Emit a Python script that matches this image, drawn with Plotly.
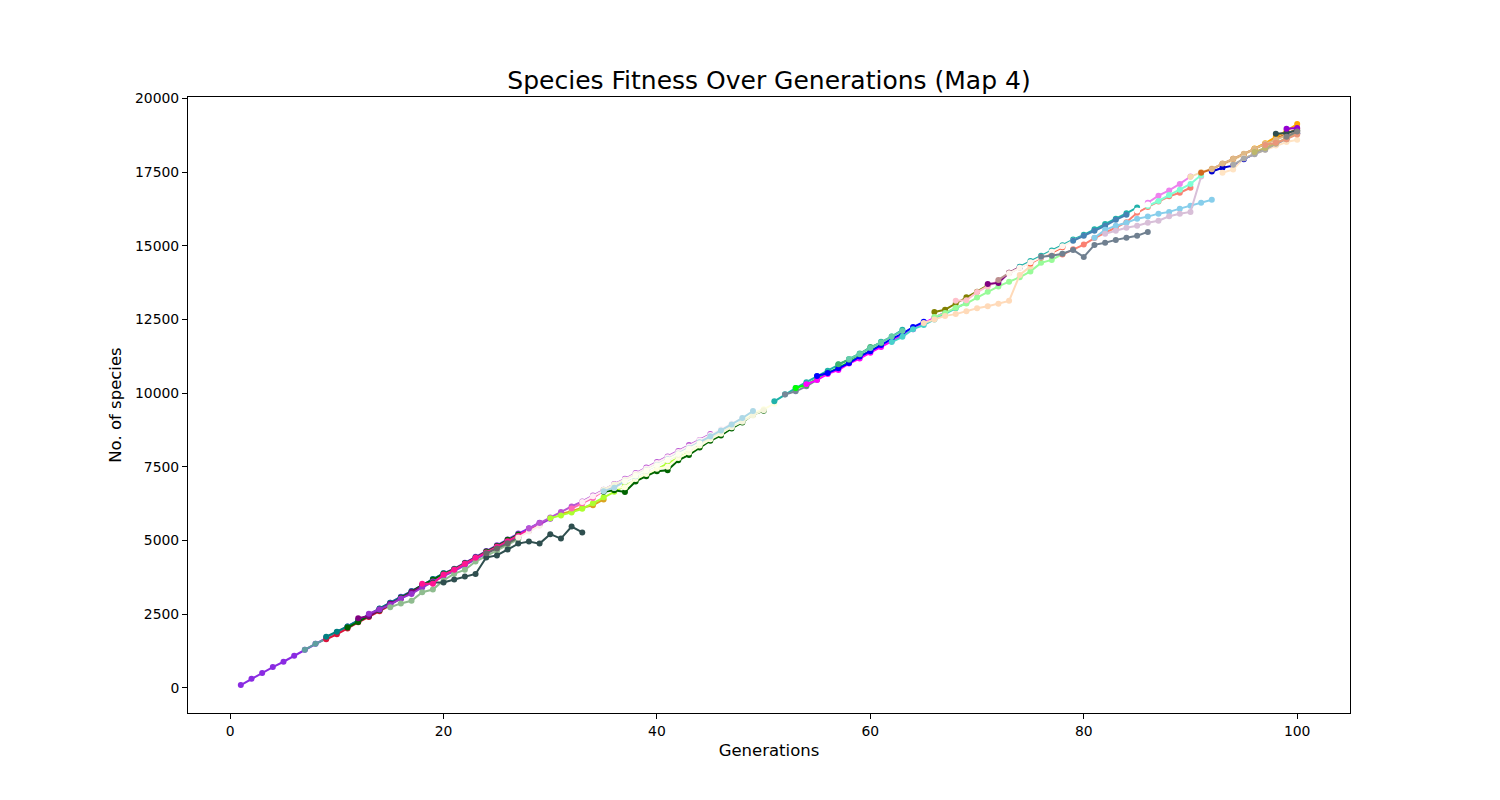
import plotly.graph_objects as go

# values, one list per species: colour, first generation, fitness per generation
species_colors = [
    "blueviolet", "cadetblue", "crimson", "teal", "darkgreen", "purple", "darkorchid",
    "darkseagreen", "darkslategray", "deeppink", "dimgray", "linen", "goldenrod", "mediumorchid",
    "greenyellow", "hotpink", "darkgreen", "lavenderblush", "lightyellow", "beige", "lightblue", "ivory",
    "lightseagreen", "lightslategray", "lime", "magenta", "blue", "mediumseagreen",
    "mediumaquamarine", "mediumturquoise", "olive", "palegreen", "peachpuff", "pink",
    "purple", "rosybrown", "tomato", "salmon", "lightseagreen", "seashell", "steelblue", "skyblue", "slategray",
    "thistle", "violet", "aquamarine", "wheat", "white", "chocolate", "mediumblue", "orange",
    "burlywood", "bisque", "darkgray", "darkkhaki", "darksalmon", "darkslategray", "darkviolet", "gray",
]

species_starts = [
    1, 7, 9, 9, 11, 12, 13,
    15, 19, 18, 24, 27, 31, 28,
    30, 32, 35, 33, 36, 35, 35, 37,
    51, 52, 53, 54, 55, 57,
    58, 62, 66, 66, 65, 68,
    71, 72, 75, 78, 74, 73, 79, 81, 76,
    82, 86, 86, 90, 85, 91, 92, 96,
    92, 93, 94, 96, 97, 98, 99, 99,
]

species_fitness = [
    [90, 300, 500, 700, 880, 1080, 1290, 1490, 1700, 1880, 2080, 2280, 2470, 2680, 2880, 3090, 3280,
     3480, 3680, 3880, 4040, 4240, 4440, 4640, 4830, 5030, 5230, 5410, 5600],
    [1290, 1490, 1660, 1870, 2070, 2260, 2450, 2650, 2850, 3050, 3230, 3470, 3660, 3880, 4020, 4210],
    [1640, 1810, 2010, 2220, 2400, 2590, 2790],
    [1730, 1900, 2080, 2280, 2470, 2690, 2880, 3070, 3270, 3480, 3690, 3880],
    [2040, 2230, 2420, 2630, 2830, 3050, 3250, 3480, 3660, 3860, 4020, 4220, 4420, 4620, 4810, 5020, 5200],
    [2360, 2430, 2650, 2850, 3020, 3240, 3450],
    [2510, 2650, 2810, 3030, 3180, 3400, 3600, 3790, 3960, 4160, 4360, 4550, 4750, 4930, 5120, 5330, 5540, 5730],
    [2730, 2860, 2950, 3240, 3330, 3640, 3870, 4000, 4280, 4470, 4640, 4830, 5040],
    [3570, 3570, 3670, 3770, 3860, 4420, 4490, 4690, 4890, 4960, 4890, 5210, 5060, 5470, 5270],
    [3530, 3530, 3840, 4000, 4210, 4410, 4590, 4780, 4970, 5150, 5360, 5560],
    [4560, 4720, 4900, 5090],
    [5100, 5300, 5500],
    [5900, 5990, 6110, 6190, 6390],
    [5400, 5590, 5780, 5960, 6150, 6320, 6520, 6720, 6910, 7090, 7290, 7470, 7660, 7850, 8030, 8240, 8410, 8610],
    [5750, 5840, 5950, 6070, 6260, 6460, 6650, 6860, 7040, 7210, 7420, 7620, 7800, 7990, 8170],
    [6080, 6260, 6440, 6690, 6860, 7040],
    [6650, 6700, 6640, 7000, 7180, 7350, 7380, 7720, 7900, 8150, 8380, 8560, 8800, 9000, 9270, 9400],
    [6300, 6500, 6700, 6890, 7070, 7260, 7440, 7630, 7820, 8000, 8190, 8400, 8580, 8770, 8970, 9150],
    [6780, 6800, 7080, 7250, 7430, 7500, 7800, 7980, 8220, 8430, 8620, 8860, 9060, 9320, 9450, 9640],
    [6720, 6900, 7040, 7220, 7380, 7560, 7720, 7900, 8080, 8280, 8480, 8660, 8840, 9030, 9240, 9420],
    [6670, 6790, 7000, 7180, 7370, 7560, 7750, 7940, 8130, 8330, 8530, 8730, 8930, 9150, 9390],
    [7010, 7190, 7370, 7550, 7740, 7930, 8110, 8300],
    [9720, 9960, 10170, 10370, 10570, 10760, 10970, 11150, 11340, 11530, 11740, 11920, 12150],
    [9950, 10060, 10230, 10450],
    [10170, 10280, 10480, 10680, 10860, 11050, 11240, 11430, 11630],
    [10300, 10440, 10650, 10780, 11000, 11170, 11370, 11560, 11760, 11950, 12170, 12370, 12560, 12740],
    [10580, 10680, 10840, 11020, 11240, 11420, 11630, 11840, 12020, 12240, 12420],
    [10980, 11130, 11320, 11560, 11700],
    [11160, 11330, 11530, 11720, 11920, 12110],
    [11730, 11910, 12170, 12310, 12500, 12690, 12880, 13060],
    [12750, 12830, 13040, 13250, 13440, 13660],
    [12580, 12720, 12900, 13040, 13240, 13440, 13620, 13780, 13930, 14130, 14420, 14520, 14720],
    [12380, 12500, 12620, 12680, 12780, 12880, 12950, 13030, 13130, 14010, 14300],
    [13130, 13150, 13430, 13620, 13820],
    [13700, 13740, 14080, 14280],
    [13840, 14080, 14260, 14440, 14620],
    [14400, 14600, 14760, 14950],
    [14700, 14880, 15040, 15260, 15450, 15620, 15800, 16120, 16320, 16500, 16680, 16800, 16970],
    [14290, 14480, 14660, 14840, 15020, 15210, 15370, 15560, 15740, 15920, 16100, 16300],
    [14060, 14250, 14440, 14620, 14800, 14980, 15170, 15330],
    [15170, 15340, 15510, 15680, 15880, 16050],
    [15270, 15540, 15680, 15780, 15920, 15990, 16090, 16150, 16260, 16360, 16460, 16560],
    [14630, 14660, 14730, 14860, 14620, 15030, 15100, 15200, 15270, 15340, 15470],
    [15410, 15510, 15610, 15680, 15780, 15850, 16000, 16090, 16150, 17350],
    [16460, 16700, 16880, 17100, 17350],
    [16350, 16520, 16720, 16900, 17100, 17400],
    [17340, 17500, 17620, 17760, 17900, 18100, 18260],
    [16200, 16400],
    [17480, 17600, 17780, 17950, 18110, 18280, 18450, 18620, 18780, 18970],
    [17520, 17650, 17720, 17940, 18120, 18280, 18440, 18650, 18820],
    [18300, 18480, 18700, 18900, 19130],
    [17600, 17790, 17950, 18120, 18290, 18460, 18600, 18740, 18900],
    [17480, 17590, 17980, 18120, 18260, 18400, 18520, 18600],
    [17750, 17960, 18110, 18260, 18460, 18620, 18860],
    [18180, 18320, 18480, 18650, 18820],
    [18420, 18500, 18620, 18780],
    [18800, 18830, 18920],
    [18970, 19000],
    [18700, 18880],
]

title = "Species Fitness Over Generations (Map 4)"
x_label = "Generations"
y_label = "No. of species"
x_ticks = [0, 20, 40, 60, 80, 100]
y_ticks = [0, 2500, 5000, 7500, 10000, 12500, 15000, 17500, 20000]

fig = go.Figure()
for color, start, values in zip(species_colors, species_starts, species_fitness):
    gens = list(range(start, start + len(values)))
    fig.add_trace(go.Scatter(x=gens, y=values, mode="lines+markers",
                             line=dict(color=color, width=2),
                             marker=dict(color=color, size=6),
                             showlegend=False))

axis_style = dict(showgrid=False, zeroline=False, showline=True, mirror=True,
                  linecolor="black", linewidth=1, ticks="outside", ticklen=5,
                  tickcolor="black", tickwidth=1,
                  tickfont=dict(size=13.9, color="black"))

# the page body adds 8px round the figure, so everything is placed 8px up and left
fig.update_layout(
    width=1500, height=800,
    paper_bgcolor="white", plot_bgcolor="white",
    font=dict(family="DejaVu Sans", color="black"),
    margin=dict(l=180, r=158, t=89, b=95, autoexpand=False),
    title=dict(text=title, font=dict(size=25, color="black"),
               x=761 / 1500, xanchor="center", y=1 - 72 / 800, yanchor="middle"),
)
fig.update_xaxes(range=[-3.95, 104.95], tickvals=x_ticks, **axis_style,
                 title=dict(text=x_label, font=dict(size=16.5, color="black"), standoff=6))
fig.update_yaxes(range=[-860, 20050], tickvals=y_ticks, tickformat="d", **axis_style,
                 title=dict(text=y_label, font=dict(size=16.5, color="black"), standoff=9))

fig.write_html("out.html")
